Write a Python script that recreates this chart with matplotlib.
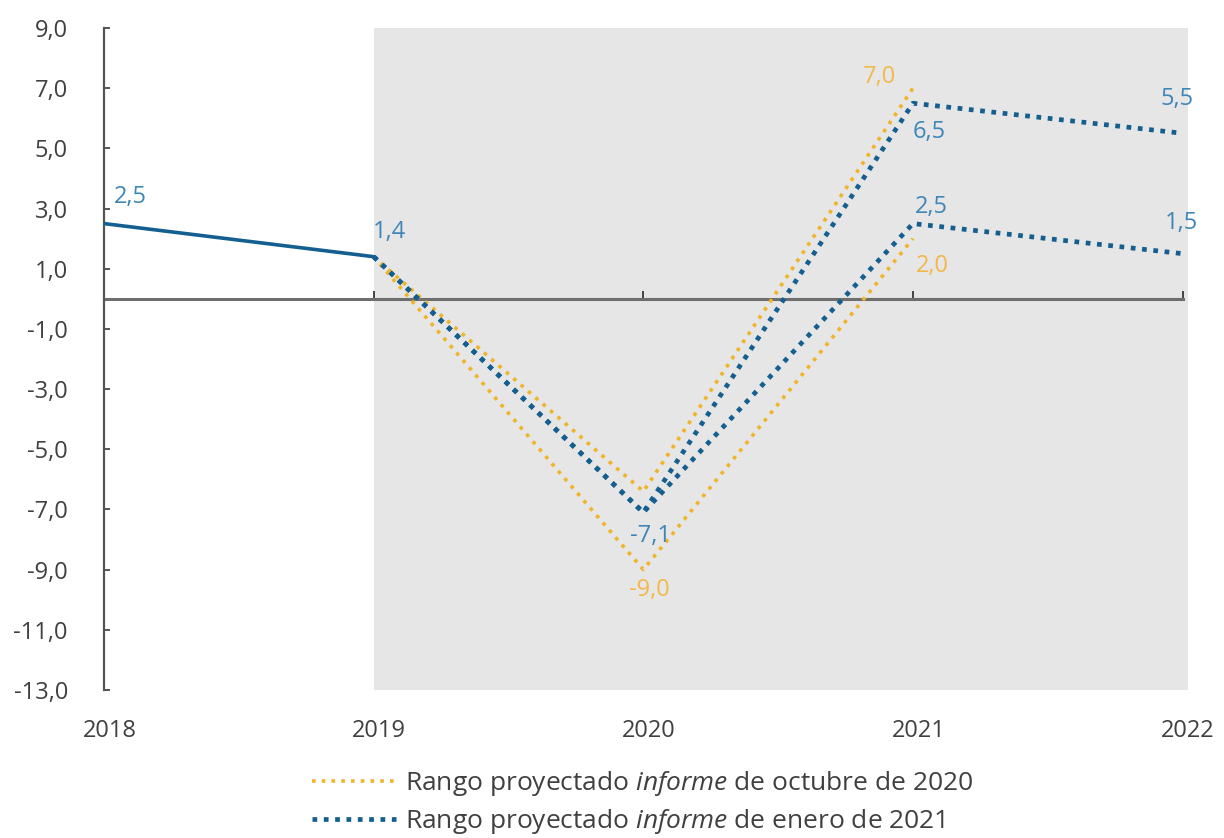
import matplotlib
matplotlib.use("Agg")
import matplotlib.pyplot as plt
import matplotlib.transforms as mtransforms

plt.rcParams['font.family'] = ['Open Sans', 'DejaVu Sans']
plt.rcParams['mathtext.fontset'] = 'custom'
plt.rcParams['mathtext.it'] = 'Open Sans:italic'
plt.rcParams['mathtext.rm'] = 'Open Sans'

# observed growth
years_obs = [2018, 2019]
obs = [2.5, 1.4]

# projected range, October 2020 report
years_oct = [2019, 2020, 2021]
oct_low = [1.4, -9.0, 2.0]
oct_high = [1.4, -6.4, 7.0]

# projected range, January 2021 report
years_jan = [2019, 2020, 2021, 2022]
jan_low = [1.4, -7.1, 2.5, 1.5]
jan_high = [1.4, -7.1, 6.5, 5.5]

x_ticks = [2018, 2019, 2020, 2021, 2022]
y_ticks = [9, 7, 5, 3, 1, -1, -3, -5, -7, -9, -11, -13]

BLUE = '#145f8f'
BLUE_TXT = '#3f86b8'
YELLOW = '#f0b429'
YELLOW_TXT = '#f2b84a'
GREY = '#404040'
FS = 17

fig = plt.figure(figsize=(12.24, 8.38), dpi=100)
ax = fig.add_axes([0.085, 0.1766, 0.8856, 0.79])

ax.axvspan(2019, 2022.02, color='#e6e6e6', zorder=0, lw=0)

ax.plot(years_obs, obs, color=BLUE, lw=2.6, zorder=4, solid_capstyle='round')
dots = (0, (1, 1.7))
ax.plot(years_oct, oct_high, color=YELLOW, lw=2.6, ls=dots, zorder=3)
ax.plot(years_oct, oct_low, color=YELLOW, lw=2.6, ls=dots, zorder=3)
ax.plot(years_jan, jan_high, color=BLUE, lw=3.4, ls=(0, (1, 1.4)), zorder=3)
ax.plot(years_jan, jan_low, color=BLUE, lw=3.4, ls=(0, (1, 1.4)), zorder=3)

# value labels, offsets in points
def lab(x, y, dx, dy, color):
    ax.annotate(f"{y:.1f}".replace('.', ','), (x, y), xytext=(dx, dy),
                textcoords='offset points', ha='center', va='center',
                fontsize=FS, color=color, zorder=5)

lab(2018, obs[0], 19, 19, BLUE_TXT)
lab(2019, obs[1], 11, 18, BLUE_TXT)
lab(2020, jan_low[1], 5, -17, BLUE_TXT)
lab(2020, oct_low[1], 4, -15, YELLOW_TXT)
lab(2021, oct_high[2], -24, 8, YELLOW_TXT)
lab(2021, jan_high[2], 12, -21, BLUE_TXT)
lab(2021, jan_low[2], 13, 12, BLUE_TXT)
lab(2021, oct_low[2], 14, -20, YELLOW_TXT)
lab(2022, jan_high[3], -4, 25, BLUE_TXT)
lab(2022, jan_low[3], -1, 22, BLUE_TXT)

ax.set_xlim(2018, 2022.02)
ax.set_ylim(-13, 9)
ax.set_yticks(y_ticks)
ax.set_yticklabels([f"{v:.1f}".replace('.', ',') for v in y_ticks])

for s in ['top', 'right']:
    ax.spines[s].set_visible(False)
ax.spines['left'].set_color('#555555')
ax.spines['left'].set_linewidth(1.6)
ax.spines['bottom'].set_position(('data', 0))
ax.spines['bottom'].set_bounds(2018, 2022)
ax.spines['bottom'].set_color('#6e6e6e')
ax.spines['bottom'].set_linewidth(2.2)
ax.spines['bottom'].set_zorder(2)

ax.set_xticks(x_ticks)
ax.tick_params(axis='x', direction='in', length=6, width=1.4, color='#444444',
               labelbottom=False)
ax.tick_params(axis='y', direction='in', length=4, width=1.4, color='#555555',
               pad=26, labelsize=FS, labelcolor=GREY)

trans = mtransforms.blended_transform_factory(ax.transData, ax.transAxes)
for yr in x_ticks:
    ax.text(yr + 0.02, -0.062, str(yr), transform=trans, ha='center', va='center',
            fontsize=FS, color=GREY)

h1, = ax.plot([], [], color=YELLOW, lw=2.6, ls=dots)
h2, = ax.plot([], [], color=BLUE, lw=3.4, ls=(0, (1, 1.4)))
fig.legend([h1, h2],
           [r"Rango proyectado $\it{informe}$ de octubre de 2020",
            r"Rango proyectado $\it{informe}$ de enero de 2021"],
           loc='center', bbox_to_anchor=(0.525, 0.042), frameon=False,
           fontsize=19, handlelength=3.2, handletextpad=0.35, labelspacing=0.35,
           labelcolor=GREY)

fig.savefig('out.png', dpi=100)
